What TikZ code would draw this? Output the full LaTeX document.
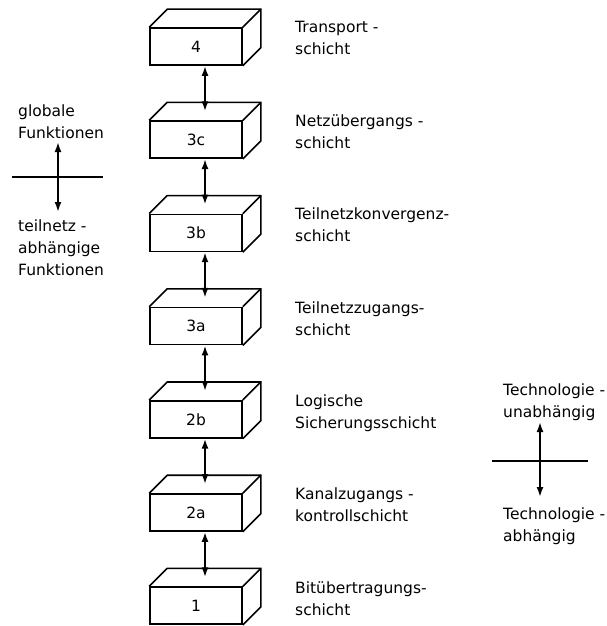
\documentclass[tikz,border=0pt]{standalone}
\usepackage{fontspec}
\setmainfont{DejaVu Sans}
\usetikzlibrary{arrows.meta,calc}

\newcommand{\lblfont}{\fontsize{15.5}{22}\selectfont}

\begin{document}
\begin{tikzpicture}[x=1pt,y=-1pt,
  layer/.style={draw,line width=1.6pt,minimum width=92pt,minimum height=37pt,
    inner sep=0pt,font=\lblfont},
  edge/.style={line width=1.6pt,line join=miter},
  link/.style={line width=2.6pt,
    {Latex[length=10pt,width=7pt]}-{Latex[length=10pt,width=7pt]}},
  tip/.style={line width=1.8pt,-{Latex[length=10pt,width=7pt]}},
  rule/.style={line width=1.5pt},
  caption/.style={anchor=base west,align=left,inner sep=0pt,font=\lblfont}]

\useasboundingbox (0,0) rectangle (607,626);

% stack of layers, drawn as boxes with a top face and a side face
\foreach \n/\t/\k in {L4/4/0, L3c/3c/1, L3b/3b/2, L3a/3a/3, L2b/2b/4, L2a/2a/5, L1/1/6} {
  \node[layer] (\n) at (196,{46.5+93.2*\k}) {\t};
  \draw[edge] (\n.north west) -- ++(18,-18)
    -- ([shift={(18,-18)}]\n.north east)
    -- ([shift={(18,-18)}]\n.south east)
    -- (\n.south east);
  \draw[edge] ([shift={(18,-18)}]\n.north east) -- (\n.north east);
}

% links between neighbouring layers
\foreach \a/\b in {L4/L3c, L3c/L3b, L3b/L3a, L3a/L2b, L2b/L2a, L2a/L1} {
  \draw[link] ([xshift=9pt]\a.south) -- ([shift={(9,-9)}]\b.north);
}

% layer names (anchored at the baseline of the last line)
\node[caption] (t4)  at (295,55)  {Transport -\\schicht};
\node[caption] (t3c) at (295,148) {Netzübergangs -\\schicht};
\node[caption] (t3b) at (295,241) {Teilnetzkonvergenz-\\schicht};
\node[caption] (t3a) at (295,335) {Teilnetzzugangs-\\schicht};
\node[caption] (t2b) at (295,428) {Logische\\Sicherungsschicht};
\node[caption] (t2a) at (295,521) {Kanalzugangs -\\kontrollschicht};
\node[caption] (t1)  at (295,615) {Bitübertragungs-\\schicht};

% left division: global / subnet-dependent functions
\coordinate (gl) at (12,177);
\coordinate (gr) at (103,177);
\coordinate (gx) at (58,177);
\coordinate (gu) at (58,142);
\coordinate (gd) at (58,212);
\draw[rule] (gl) -- (gr);
\draw[tip] (gx) -- (gu);
\draw[tip] (gx) -- (gd);
\node[caption] (gf) at (18,138) {globale\\Funktionen};
\node[caption] (tf) at (18,275) {teilnetz -\\abhängige\\Funktionen};

% right division: technology independent / dependent
\coordinate (tl) at (492,461);
\coordinate (tr) at (588,461);
\coordinate (tx) at (540,461);
\coordinate (tu) at (540,422);
\coordinate (td) at (540,497);
\draw[rule] (tl) -- (tr);
\draw[tip] (tx) -- (tu);
\draw[tip] (tx) -- (td);
\node[caption] (ti) at (503,417) {Technologie -\\unabhängig};
\node[caption] (ta) at (503,541) {Technologie -\\abhängig};

\end{tikzpicture}
\end{document}
